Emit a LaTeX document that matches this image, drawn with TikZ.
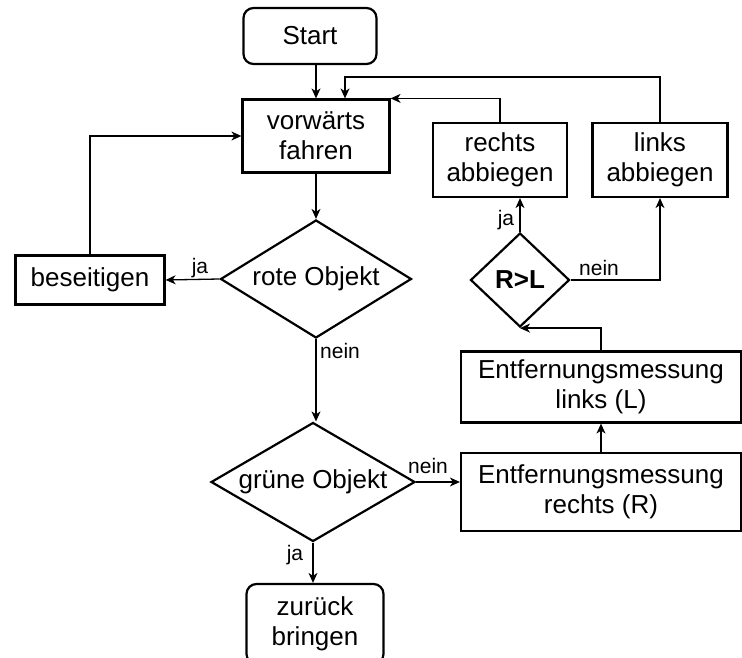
\documentclass[tikz,border=0pt]{standalone}
\usepackage{fontspec}
\setmainfont{Liberation Sans}
\usetikzlibrary{arrows.meta, positioning, shapes.geometric}

\begin{document}
\begin{tikzpicture}[
    x=1pt, y=-1pt,
    >={Stealth[length=10pt, width=9pt, inset=3pt]},
    every path/.style={line width=1.3pt},
    box/.style={rectangle, draw, line width=2.2pt, align=center, inner sep=0pt,
        font=\fontsize{26}{30}\selectfont},
    rund/.style={box, rounded corners=10pt},
    raute/.style={diamond, draw, line width=2.2pt, inner sep=0pt,
        font=\fontsize{26}{30}\selectfont},
    beschr/.style={font=\fontsize{21}{23}\selectfont, inner sep=0pt}
]
\useasboundingbox (0,0) rectangle (742,658);

% Nodes
\node[rund, minimum width=133pt, minimum height=56pt] (start) at (310,36) {Start};
\node[box, minimum width=147pt, minimum height=73pt] (fahren) at (316,136) {vorwärts\\fahren};
\node[raute, aspect=1.62, minimum width=191pt, minimum height=118pt] (rot) at (316,279) {rote Objekt};
\node[box, minimum width=149pt, minimum height=49pt] (beseitigen) at (90,280) {beseitigen};
\node[raute, aspect=1.71, minimum width=204pt, minimum height=119pt] (gruen) at (313,482) {grüne Objekt};
\node[rund, minimum width=137pt, minimum height=80pt] (zurueck) at (315,624) {zurück\\bringen};
\node[box, minimum width=280pt, minimum height=78pt] (messR) at (601,492) {Entfernungsmessung\\rechts (R)};
\node[box, minimum width=280pt, minimum height=71pt] (messL) at (601,387) {Entfernungsmessung\\links (L)};
\node[raute, aspect=1.05, minimum width=99pt, minimum height=94pt, font=\fontsize{26}{30}\selectfont\bfseries] (vergleich) at (520,280) {R>L};
\node[box, minimum width=134pt, minimum height=74pt] (rechts) at (500,160) {rechts\\abbiegen};
\node[box, minimum width=135pt, minimum height=74pt] (links) at (660,160) {links\\abbiegen};

\coordinate (knick) at (345,77);

% Edges
\draw[->] (start.south -| fahren) -- (fahren.north);
\draw[->] (fahren) -- (rot);
\draw[->] (rot.west) -- (beseitigen.east);
\draw[->] (beseitigen.north) |- (fahren.west);
\draw[->] (rot.south) -- (rot.south |- gruen.north);
\draw[->] (gruen.south) -- (gruen.south |- zurueck.north);
\draw[->] (gruen.east) -- (gruen.east -| messR.west);
\draw[->] (messR.north) -- (messL.south);
\draw[->] (messL.north) |- (vergleich.south);
\draw[->] (vergleich.north) -- (vergleich.north |- rechts.south);
\draw[->] (vergleich.east) -| (links.south);
\draw[->] (rechts.north) |- (fahren.north east);
\draw[->] (links.north) |- (knick) -- (knick |- fahren.north);

% Labels
\node[beschr] (jaRot) at (200,268) {ja};
\node[beschr] (neinRot) at (340,351) {nein};
\node[beschr] (neinGruen) at (428,466) {nein};
\node[beschr] (jaGruen) at (295,555) {ja};
\node[beschr] (jaVergleich) at (506,220) {ja};
\node[beschr] (neinVergleich) at (599,268) {nein};

\end{tikzpicture}
\end{document}
